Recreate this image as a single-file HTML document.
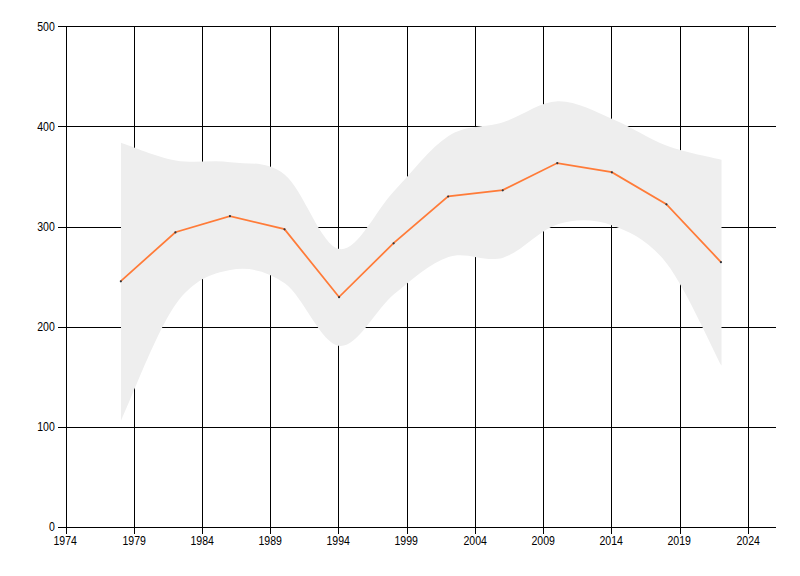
<!DOCTYPE html>
<html><head><meta charset="utf-8"><title>chart</title>
<style>html,body{margin:0;padding:0;background:#fff;}body{width:800px;height:576px;overflow:hidden;}svg{display:block;}text{font-family:"Liberation Sans",sans-serif;font-size:12px;fill:#000;}</style></head>
<body>
<svg width="800" height="576" viewBox="0 0 800 576">
<rect width="800" height="576" fill="#ffffff"/>
<g fill="#000" shape-rendering="crispEdges">
<rect x="58" y="26" width="718" height="1"/>
<rect x="58" y="126" width="718" height="1"/>
<rect x="58" y="227" width="718" height="1"/>
<rect x="58" y="327" width="718" height="1"/>
<rect x="58" y="427" width="718" height="1"/>
<rect x="58" y="527" width="718" height="1"/>
<rect x="66" y="26" width="1" height="508"/>
<rect x="134" y="26" width="1" height="508"/>
<rect x="202" y="26" width="1" height="508"/>
<rect x="270" y="26" width="1" height="508"/>
<rect x="338" y="26" width="1" height="508"/>
<rect x="407" y="26" width="1" height="508"/>
<rect x="475" y="26" width="1" height="508"/>
<rect x="543" y="26" width="1" height="508"/>
<rect x="611" y="26" width="1" height="508"/>
<rect x="680" y="26" width="1" height="508"/>
<rect x="748" y="26" width="1" height="508"/>
</g>
<path d="M121.00 142.64 C130.10 145.60 157.39 157.18 175.59 160.43 C193.79 163.68 211.98 159.78 230.18 162.16 C248.38 164.54 266.58 160.25 284.77 174.74 C302.97 189.23 321.17 246.35 339.36 249.09 C357.56 251.83 375.76 210.00 393.95 191.16 C412.15 172.31 430.35 147.50 448.55 136.02 C466.74 124.54 484.94 128.08 503.14 122.30 C521.33 116.52 539.53 101.90 557.73 101.33 C575.92 100.76 594.12 111.49 612.32 118.88 C630.52 126.27 648.71 138.89 666.91 145.68 C685.11 152.47 712.40 157.31 721.50 159.64 L721.50 365.73 C712.40 348.72 685.11 287.02 666.91 263.65 C648.71 240.27 630.52 232.06 612.32 225.48 C594.12 218.90 575.92 218.81 557.73 224.17 C539.53 229.53 521.33 252.19 503.14 257.66 C484.94 263.14 466.74 250.91 448.55 257.02 C430.35 263.13 412.15 279.48 393.95 294.31 C375.76 309.14 357.56 347.86 339.36 346.02 C321.17 344.18 302.97 295.94 284.77 283.28 C266.58 270.62 248.38 266.54 230.18 270.07 C211.98 273.60 193.79 279.35 175.59 304.48 C157.39 329.61 130.10 401.44 121.00 420.83 Z" fill="#eeeeee"/>
<polyline points="120.80,281.15 175.35,232.25 229.91,216.05 284.46,229.15 339.02,297.05 393.57,243.15 448.13,196.35 502.69,190.15 557.24,163.05 611.79,172.15 666.35,204.15 720.90,262.05" fill="none" stroke="#ff7b38" stroke-width="1.75" stroke-linejoin="miter" stroke-linecap="butt"/>
<g fill="#30363c">
<circle cx="120.85" cy="281.30" r="1.1"/>
<circle cx="175.41" cy="232.40" r="1.1"/>
<circle cx="229.96" cy="216.20" r="1.1"/>
<circle cx="284.51" cy="229.30" r="1.1"/>
<circle cx="339.07" cy="297.20" r="1.1"/>
<circle cx="393.62" cy="243.30" r="1.1"/>
<circle cx="448.18" cy="196.50" r="1.1"/>
<circle cx="502.74" cy="190.30" r="1.1"/>
<circle cx="557.29" cy="163.20" r="1.1"/>
<circle cx="611.84" cy="172.30" r="1.1"/>
<circle cx="666.40" cy="204.30" r="1.1"/>
<circle cx="720.95" cy="262.20" r="1.1"/>
</g>
<g text-anchor="end">
<text transform="translate(54.8,31) scale(0.88,1)">500</text>
<text transform="translate(54.8,131) scale(0.88,1)">400</text>
<text transform="translate(54.8,231) scale(0.88,1)">300</text>
<text transform="translate(54.8,331) scale(0.88,1)">200</text>
<text transform="translate(54.8,431) scale(0.88,1)">100</text>
<text transform="translate(54.8,531) scale(0.88,1)">0</text>
</g>
<g text-anchor="middle">
<text transform="translate(65.2,545) scale(0.88,1)">1974</text>
<text transform="translate(134.2,545) scale(0.88,1)">1979</text>
<text transform="translate(202.2,545) scale(0.88,1)">1984</text>
<text transform="translate(270.2,545) scale(0.88,1)">1989</text>
<text transform="translate(338.2,545) scale(0.88,1)">1994</text>
<text transform="translate(406.2,545) scale(0.88,1)">1999</text>
<text transform="translate(475.2,545) scale(0.88,1)">2004</text>
<text transform="translate(543.2,545) scale(0.88,1)">2009</text>
<text transform="translate(611.2,545) scale(0.88,1)">2014</text>
<text transform="translate(679.2,545) scale(0.88,1)">2019</text>
<text transform="translate(748.2,545) scale(0.88,1)">2024</text>
</g>
</svg>
</body></html>
